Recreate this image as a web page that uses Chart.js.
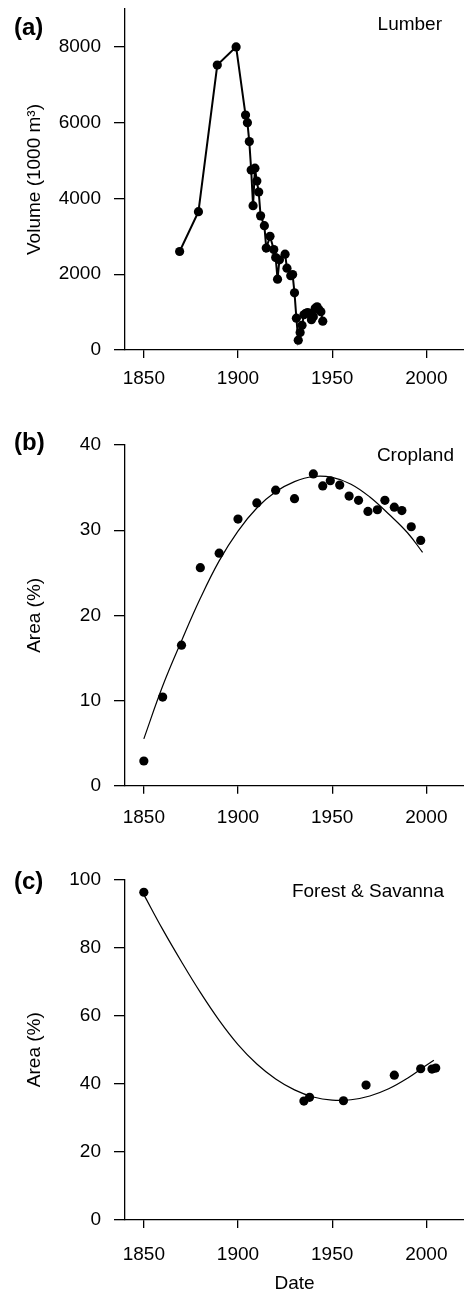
<!DOCTYPE html>
<html>
<head>
<meta charset="utf-8">
<script src="https://cdn.jsdelivr.net/npm/chart.js@4.4.1/dist/chart.umd.min.js"></script>
<style>
  html, body { margin: 0; padding: 0; background: #fff; overflow: hidden; }
  body { width: 464px; height: 1291px; position: relative; font-family: "Liberation Sans", Arial, sans-serif; color: #000; }
  canvas { position: absolute; left: 0; }
  .tag { position: absolute; left: 14px; font-size: 24px; line-height: 24px; font-weight: bold; }
  .name { position: absolute; font-size: 19px; line-height: 19px; white-space: nowrap; }
</style>
</head>
<body>
<canvas id="lumber" width="464" height="400" style="top:0px"></canvas>
<canvas id="crop" width="464" height="410" style="top:420px"></canvas>
<canvas id="forest" width="464" height="460" style="top:840px"></canvas>

<div class="tag" style="top:15px">(a)</div>
<div class="tag" style="top:430px">(b)</div>
<div class="tag" style="top:869px">(c)</div>
<div class="name" style="top:13.5px; right:22px">Lumber</div>
<div class="name" style="top:444.5px; right:10px">Cropland</div>
<div class="name" style="top:880.5px; right:20px">Forest &amp; Savanna</div>

<script>
// panel (a) lumber volume, 1000 m3
const lumberYears = [1869, 1879, 1889, 1899, 1904, 1905, 1906, 1907, 1908, 1909, 1910, 1911, 1912, 1914, 1915, 1917,
                     1919, 1920, 1921, 1922, 1925, 1926, 1928, 1929, 1930, 1931, 1932, 1933, 1934, 1935, 1936, 1937,
                     1938, 1939, 1940, 1941, 1942, 1943, 1944, 1945];
const lumberVolume = [2600, 3650, 7520, 8000, 6200, 6000, 5500, 4750, 3810, 4800, 4460, 4170, 3540, 3280, 2690, 3000,
                      2650, 2440, 1870, 2380, 2530, 2160, 1960, 1990, 1510, 840, 260, 460, 650, 930, 970, 990,
                      960, 800, 880, 1100, 1140, 1060, 1010, 760];

// panel (b) cropland area, %
const cropYears = [1850, 1860, 1870, 1880, 1890, 1900, 1910, 1920, 1930, 1940, 1945, 1949, 1954, 1959, 1964, 1969,
                   1974, 1978, 1983, 1987, 1992, 1997];
const cropArea = [2.9, 10.4, 16.5, 25.6, 27.3, 31.3, 33.2, 34.7, 33.7, 36.6, 35.2, 35.8, 35.3, 34.0, 33.5, 32.2,
                  32.4, 33.5, 32.7, 32.3, 30.4, 28.8];
const cropFitYears = [1850, 1860, 1870, 1880, 1890, 1900, 1910, 1920, 1930, 1940, 1950, 1960, 1970, 1980, 1990, 1998];
const cropFitArea = [5.5, 11.7, 17.0, 22.0, 26.4, 29.9, 32.6, 34.5, 35.7, 36.3, 36.2, 35.4, 33.9, 31.9, 29.7, 27.4];

// panel (c) forest & savanna area, %
const forestYears = [1850, 1935, 1938, 1956, 1968, 1983, 1997, 2003, 2005];
const forestArea = [96.2, 34.9, 36.0, 35.0, 39.6, 42.5, 44.4, 44.3, 44.6];
const forestFitYears = [1850, 1860, 1870, 1880, 1890, 1900, 1910, 1920, 1930, 1940, 1950, 1960, 1970, 1980, 1990, 2000, 2004];
const forestFitArea = [95.5, 85.3, 75.8, 66.8, 58.6, 51.5, 45.8, 41.4, 38.2, 36.1, 35.2, 35.3, 36.4, 38.5, 41.6, 45.4, 46.9];

const dateTicks = [1850, 1900, 1950, 2000];
const volumeTicks = [0, 2000, 4000, 6000, 8000];
const cropTicks = [0, 10, 20, 30, 40];
const forestTicks = [0, 20, 40, 60, 80, 100];

const font = { family: '"Liberation Sans", Arial, sans-serif', size: 19 };

function pairs(xs, ys) {
  return xs.map((x, i) => ({ x: x, y: ys[i] }));
}

function yAxis(ticks, max, title) {
  return {
    min: 0, max: max,
    afterBuildTicks: s => { s.ticks = ticks.map(v => ({ value: v })); },
    afterFit: s => { s.width = 125; s.paddingTop = 0; s.paddingBottom = 0; },
    grid: { drawOnChartArea: false, tickLength: 11, color: '#000', lineWidth: 1.3 },
    border: { color: '#000', width: 1.3 },
    ticks: { font: font, color: '#000', padding: 13, callback: v => String(v) },
    title: { display: true, text: title, font: font, color: '#000', padding: { top: 23.6, bottom: 0 } }
  };
}

function xAxis(height, pad, title) {
  return {
    type: 'linear', min: 1840, max: 2020,
    afterBuildTicks: s => { s.ticks = dateTicks.map(v => ({ value: v })); },
    afterFit: s => { s.height = height; s.paddingLeft = 0; s.paddingRight = 0; },
    grid: { drawOnChartArea: false, tickLength: 8, color: '#000', lineWidth: 1.3 },
    border: { color: '#000', width: 1.3 },
    ticks: { font: font, color: '#000', padding: pad, maxRotation: 0, autoSkip: false, callback: v => String(v) },
    title: title ? { display: true, text: title, font: font, color: '#000', padding: { top: 0, bottom: 5.2 } }
                 : { display: false }
  };
}

const dots = { showLine: false, pointRadius: 4.6, pointBackgroundColor: '#000', pointBorderWidth: 0, clip: false };
const fit = { showLine: true, pointRadius: 0, borderColor: '#000', borderWidth: 1.2, tension: 0.4, fill: false, clip: false };
const common = {
  responsive: false,
  animation: false,
  plugins: { legend: { display: false }, tooltip: { enabled: false } }
};

new Chart(document.getElementById('lumber'), {
  type: 'scatter',
  data: {
    datasets: [{
      data: pairs(lumberYears, lumberVolume),
      showLine: true, borderColor: '#000', borderWidth: 2, tension: 0,
      pointRadius: 4.6, pointBackgroundColor: '#000', pointBorderWidth: 0, clip: false
    }]
  },
  options: Object.assign({}, common, {
    layout: { autoPadding: false, padding: { top: 9, right: 0, bottom: 0, left: 0 } },
    scales: { x: xAxis(50, 9.6, null), y: yAxis(volumeTicks, 9000, 'Volume (1000 m³)') }
  })
});

new Chart(document.getElementById('crop'), {
  type: 'scatter',
  data: {
    datasets: [
      Object.assign({ data: pairs(cropYears, cropArea) }, dots),
      Object.assign({ data: pairs(cropFitYears, cropFitArea) }, fit)
    ]
  },
  options: Object.assign({}, common, {
    layout: { autoPadding: false, padding: { top: 25, right: 0, bottom: 0, left: 0 } },
    scales: { x: xAxis(44.3, 12.6, null), y: yAxis(cropTicks, 40, 'Area (%)') }
  })
});

new Chart(document.getElementById('forest'), {
  type: 'scatter',
  data: {
    datasets: [
      Object.assign({ data: pairs(forestYears, forestArea) }, dots),
      Object.assign({ data: pairs(forestFitYears, forestFitArea) }, fit)
    ]
  },
  options: Object.assign({}, common, {
    layout: { autoPadding: false, padding: { top: 39.3, right: 0, bottom: 0, left: 0 } },
    scales: { x: xAxis(80, 14.9, 'Date'), y: yAxis(forestTicks, 100, 'Area (%)') }
  })
});
</script>
</body>
</html>
